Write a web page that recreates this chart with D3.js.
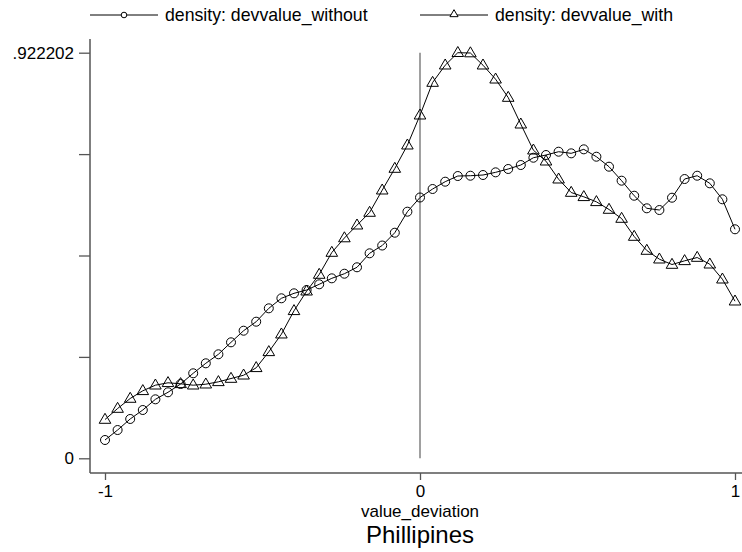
<!DOCTYPE html>
<html>
<head>
<meta charset="utf-8">
<script src="https://cdn.jsdelivr.net/npm/d3@7"></script>
<style>
  body { margin: 0; background: #fff; }
  text { font-family: "Liberation Sans", Arial, sans-serif; fill: #000; }
</style>
</head>
<body>
<div id="container"></div>
<script>
/* DATA */
// grid of value_deviation, -1 to 1 step .04
const xGrid = d3.range(51).map(i => +(-1 + i * 0.04).toFixed(2))

const densityWithout = [
  0.0416, 0.0643, 0.0894, 0.1098, 0.1341, 0.1501, 0.1689, 0.1933, 0.2160, 0.2365,
  0.2637, 0.2901, 0.3106, 0.3410, 0.3638, 0.3751, 0.3826, 0.3956, 0.4092, 0.4197,
  0.4343, 0.4661, 0.4838, 0.5129, 0.5607, 0.5930, 0.6123, 0.6289, 0.6418, 0.6425,
  0.6441, 0.6502, 0.6578, 0.6668, 0.6834, 0.6896, 0.6971, 0.6934, 0.7025, 0.6857,
  0.6630, 0.6312, 0.5970, 0.5684, 0.5645, 0.5925, 0.6350, 0.6425, 0.6252, 0.5889,
  0.5207
]

const densityWith = [
  0.0882, 0.1132, 0.1360, 0.1535, 0.1662, 0.1717, 0.1694, 0.1662, 0.1685, 0.1739,
  0.1814, 0.1889, 0.2058, 0.2421, 0.2822, 0.3354, 0.3799, 0.4179, 0.4679, 0.5009,
  0.5300, 0.5589, 0.6096, 0.6589, 0.7119, 0.7801, 0.8544, 0.8938, 0.922202, 0.9215,
  0.8938, 0.8619, 0.8203, 0.7596, 0.7005, 0.6755, 0.6346, 0.6043, 0.5946, 0.5832,
  0.5657, 0.5452, 0.5043, 0.4725, 0.4527, 0.4406, 0.4490, 0.4565, 0.4413, 0.4072,
  0.3572
]

const seriesNames = ["density: devvalue_without", "density: devvalue_with"]
const yMax = 0.922202
const yTicks = [0, yMax / 4, yMax / 2, yMax * 3 / 4, yMax]
const yTickLabels = ["0", "", "", "", ".922202"]
const xTicks = [-1, 0, 1]
const xTitle = "value_deviation"
const chartTitle = "Phillipines"

/* CONSTANTS */
const width = 742, height = 552
const plot = { left: 90, right: 742, top: 39, bottom: 473 }
const axisColor = "#555"

const svg = d3.select("#container")
  .append("svg")
  .attr("width", width)
  .attr("height", height)

/* SCALES */
const xScale = d3.scaleLinear().domain([-1, 1]).range([105, 735])
const yScale = d3.scaleLinear().domain([0, yMax]).range([458.3, 52.7])

// axis lines
svg.append("line")
  .attr("x1", plot.left).attr("x2", plot.left)
  .attr("y1", plot.top).attr("y2", plot.bottom)
  .attr("stroke", axisColor).attr("stroke-width", 1.5)
svg.append("line")
  .attr("x1", plot.left).attr("x2", plot.right)
  .attr("y1", plot.bottom).attr("y2", plot.bottom)
  .attr("stroke", axisColor).attr("stroke-width", 1.5)

// y axis
const yAxis = d3.axisLeft(yScale)
  .tickValues(yTicks)
  .tickSize(11)
  .tickPadding(5)
  .tickFormat((d, i) => yTickLabels[i])
const gy = svg.append("g")
  .attr("transform", `translate(${plot.left},0)`)
  .call(yAxis)
gy.select(".domain").remove()
gy.selectAll(".tick line").attr("stroke", axisColor).attr("stroke-width", 1.3)
gy.selectAll(".tick text").style("font-size", "17px")
  .attr("font-family", null).attr("fill", "#000")

// x axis
const xAxis = d3.axisBottom(xScale)
  .tickValues(xTicks)
  .tickSize(7)
  .tickPadding(5)
  .tickFormat(d3.format("d"))
const gx = svg.append("g")
  .attr("transform", `translate(0,${plot.bottom})`)
  .call(xAxis)
gx.select(".domain").remove()
gx.selectAll(".tick line").attr("stroke", axisColor).attr("stroke-width", 1.3)
gx.selectAll(".tick text").style("font-size", "17px")
  .attr("font-family", null).attr("fill", "#000")
  .text(d => d < 0 ? "-" + Math.abs(d) : d)

// vertical reference line at 0
svg.append("line")
  .attr("x1", xScale(0)).attr("x2", xScale(0))
  .attr("y1", yScale(0)).attr("y2", yScale(yMax))
  .attr("stroke", "#808080").attr("stroke-width", 1.5)

/* SERIES */
const line = d3.line()
  .x((d, i) => xScale(xGrid[i]))
  .y(d => yScale(d))

const triPath = s => `M0,${-s * 0.62}L${s * 0.58},${s * 0.38}L${-s * 0.58},${s * 0.38}Z`

svg.append("path")
  .datum(densityWithout)
  .attr("d", line)
  .attr("fill", "none").attr("stroke", "#000").attr("stroke-width", 1)

svg.append("path")
  .datum(densityWith)
  .attr("d", line)
  .attr("fill", "none").attr("stroke", "#000").attr("stroke-width", 1)

svg.selectAll(".circ")
  .data(densityWithout)
  .join("circle")
  .attr("class", "circ")
  .attr("cx", (d, i) => xScale(xGrid[i]))
  .attr("cy", d => yScale(d))
  .attr("r", 4.5)
  .attr("fill", "none").attr("stroke", "#000").attr("stroke-width", 1)

svg.selectAll(".tri")
  .data(densityWith)
  .join("path")
  .attr("class", "tri")
  .attr("transform", (d, i) => `translate(${xScale(xGrid[i])},${yScale(d)})`)
  .attr("d", triPath(10))
  .attr("fill", "none").attr("stroke", "#000").attr("stroke-width", 1)

/* TITLES */
svg.append("text")
  .attr("x", xScale(0)).attr("y", 517)
  .attr("text-anchor", "middle")
  .style("font-size", "17px")
  .text(xTitle)

svg.append("text")
  .attr("x", xScale(0)).attr("y", 543)
  .attr("text-anchor", "middle")
  .style("font-size", "24px")
  .text(chartTitle)

/* LEGEND */
const legendX = [90, 420]
const legend = svg.selectAll(".legend")
  .data(seriesNames)
  .join("g")
  .attr("class", "legend")
  .attr("transform", (d, i) => `translate(${legendX[i]},15)`)

legend.append("line")
  .attr("x1", 0).attr("x2", 68)
  .attr("stroke", "#000").attr("stroke-width", 1)

legend.filter((d, i) => i === 0).append("circle")
  .attr("cx", 34).attr("r", 2.8)
  .attr("fill", "#fff").attr("stroke", "#000").attr("stroke-width", 1)

legend.filter((d, i) => i === 1).append("path")
  .attr("transform", "translate(34,-1)")
  .attr("d", triPath(7))
  .attr("fill", "#fff").attr("stroke", "#000").attr("stroke-width", 1)

legend.append("text")
  .attr("x", 75).attr("y", 6)
  .style("font-size", "17.7px")
  .text(d => d)
</script>
</body>
</html>
